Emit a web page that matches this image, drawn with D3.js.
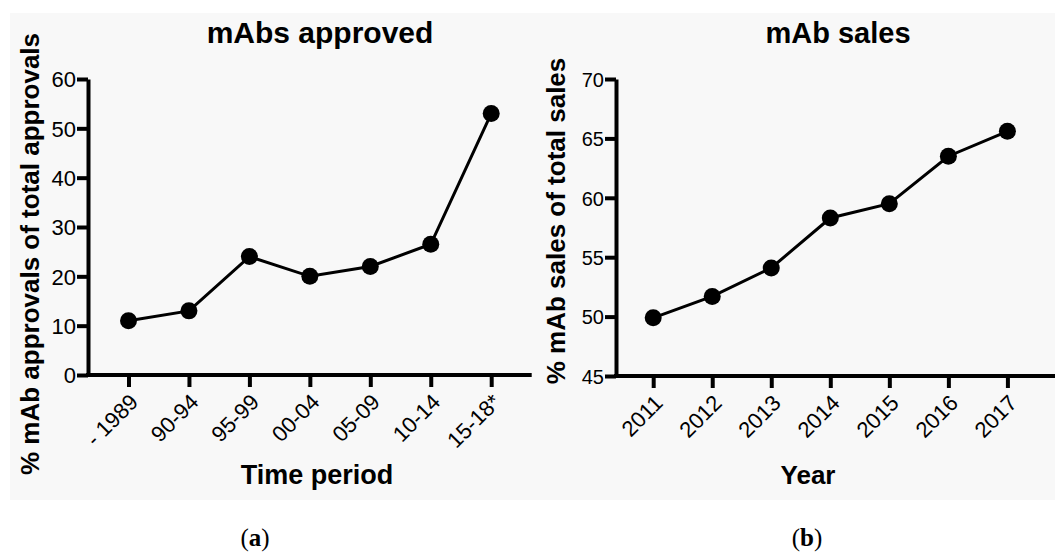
<!DOCTYPE html>
<html>
<head>
<meta charset="utf-8">
<script src="https://cdn.jsdelivr.net/npm/d3@7"></script>
<style>
  body { margin: 0; background: #fff; }
  svg { display: block; }
  text { font-family: "Liberation Sans", Arial, Helvetica, sans-serif; fill: #000; }
</style>
</head>
<body>
<div id="chart"></div>
<script>
const W = 1055
const H = 554

// panel (a)
const periods = ['- 1989', '90-94', '95-99', '00-04', '05-09', '10-14', '15-18*']
const approvals = [11, 13, 24, 20, 22, 26.5, 53]
const approvalTicks = [0, 10, 20, 30, 40, 50, 60]

// panel (b)
const years = ['2011', '2012', '2013', '2014', '2015', '2016', '2017']
const sales = [49.9, 51.7, 54.1, 58.3, 59.5, 63.5, 65.6]
const salesTicks = [45, 50, 55, 60, 65, 70]

const svg = d3.select('#chart')
  .append('svg')
  .attr('width', W)
  .attr('height', H)

svg.append('rect')
  .attr('x', 10).attr('y', 13)
  .attr('width', W - 10).attr('height', 487)
  .attr('fill', '#f8f8f8')

function panel(opts) {
  const g = svg.append('g')
  const x = d3.scalePoint().domain(opts.cats).range([opts.left, opts.xEnd]).padding(opts.pad)
  const y = d3.scaleLinear().domain(opts.yDomain).range([opts.bottom, opts.top])

  // y axis
  const ya = g.append('g')
    .attr('transform', `translate(${opts.left},0)`)
    .call(d3.axisLeft(y).tickValues(opts.yTicks).tickSize(11).tickSizeOuter(0).tickPadding(1))
  ya.select('.domain').attr('stroke-width', 4).attr('stroke', '#000')
  ya.selectAll('.tick line').attr('stroke-width', 4).attr('stroke', '#000')
  ya.selectAll('.tick text').style('font-size', opts.tickFont + 'px').attr('dy', '0.36em')

  // x axis
  const xa = g.append('g')
    .attr('transform', `translate(0,${opts.bottom})`)
    .call(d3.axisBottom(x).tickSize(12).tickSizeOuter(0))
  xa.select('.domain').remove()
  xa.selectAll('.tick line').attr('stroke-width', 4).attr('stroke', '#000')
  xa.selectAll('.tick text')
    .style('font-size', opts.xTickFont + 'px')
    .style('text-anchor', 'end')
    .attr('x', 0).attr('y', 0).attr('dy', '0.35em')
    .attr('transform', 'translate(5,23) rotate(-45)')
  g.append('line')
    .attr('x1', opts.left - 2).attr('x2', opts.lineEnd)
    .attr('y1', opts.bottom).attr('y2', opts.bottom)
    .attr('stroke', '#000').attr('stroke-width', 4)

  // series
  const line = d3.line()
    .x((d, i) => x(opts.cats[i]))
    .y(d => y(d))
  g.append('path')
    .datum(opts.values)
    .attr('d', line)
    .attr('fill', 'none')
    .attr('stroke', '#000')
    .attr('stroke-width', 3)
  g.selectAll('circle.pt')
    .data(opts.values)
    .join('circle')
    .attr('class', 'pt')
    .attr('cx', (d, i) => x(opts.cats[i]))
    .attr('cy', d => y(d))
    .attr('r', 8.5)
    .attr('fill', '#000')

  // titles
  g.append('text')
    .attr('x', opts.titleX).attr('y', 43)
    .attr('text-anchor', 'middle')
    .style('font-size', opts.titleFont + 'px').style('font-weight', 'bold')
    .text(opts.title)
  g.append('text')
    .attr('transform', `translate(${opts.yLabX},${opts.yLabY}) rotate(-90)`)
    .attr('text-anchor', 'middle')
    .style('font-size', opts.yLabFont + 'px').style('font-weight', 'bold')
    .text(opts.yLabel)
  g.append('text')
    .attr('x', opts.xLabX).attr('y', 484)
    .attr('text-anchor', 'middle')
    .style('font-size', opts.labFont + 'px').style('font-weight', 'bold')
    .text(opts.xLabel)

  const cap = g.append('text')
    .attr('x', opts.capX).attr('y', 546)
    .attr('text-anchor', 'middle')
    .style('font-family', '"Liberation Serif", "DejaVu Serif", serif')
    .style('font-size', '25px')
  cap.append('tspan').text('(')
  cap.append('tspan').style('font-weight', 'bold').text(opts.cap)
  cap.append('tspan').text(')')
}

panel({
  cats: periods, values: approvals, yTicks: approvalTicks, yDomain: [0, 60],
  left: 88, xEnd: 531.7, lineEnd: 531.7, pad: 0.67, top: 79, bottom: 375,
  tickFont: 22, xTickFont: 22, titleFont: 30, labFont: 27, yLabFont: 26,
  title: 'mAbs approved', titleX: 320,
  yLabel: '% mAb approvals of total approvals', yLabX: 39, yLabY: 254,
  xLabel: 'Time period', xLabX: 317,
  cap: 'a', capX: 255
})

panel({
  cats: years, values: sales, yTicks: salesTicks, yDomain: [45, 70],
  left: 616, xEnd: 1044.6, lineEnd: 1055, pad: 0.63, top: 79, bottom: 376,
  tickFont: 20, xTickFont: 22, titleFont: 29, labFont: 26, yLabFont: 26,
  title: 'mAb sales', titleX: 838,
  yLabel: '% mAb sales of total sales', yLabX: 565, yLabY: 221,
  xLabel: 'Year', xLabX: 808,
  cap: 'b', capX: 807
})
</script>
</body>
</html>
